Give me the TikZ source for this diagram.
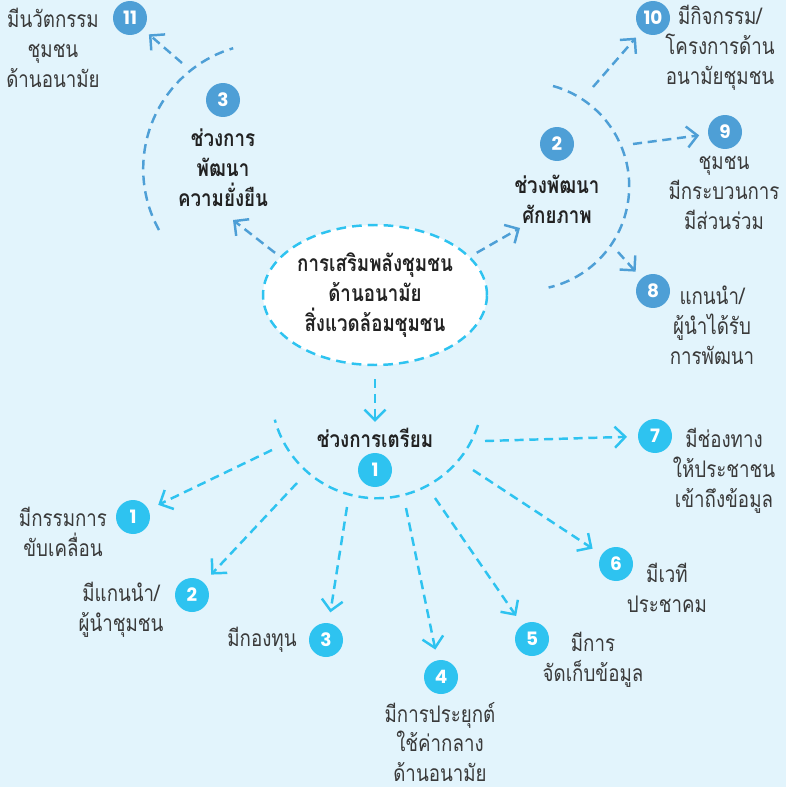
\documentclass[tikz,border=0pt]{standalone}
\usepackage{fontspec}
\setmainfont[Script=Thai, FakeStretch=0.82]{Loma}
\newfontfamily\digitfont{Poppins}
\usetikzlibrary{arrows.meta,shapes.geometric}

\definecolor{bgblue}{HTML}{E2F4FC}
\definecolor{cyanline}{HTML}{2EC3F0}
\definecolor{steelline}{HTML}{4E9FD6}
\definecolor{txtgray}{HTML}{3A3A3A}
\definecolor{ttlblack}{HTML}{222222}

\tikzset{
  dashline/.style={line width=1.4pt, dash pattern=on 5.5pt off 3.5pt},
  arrline/.style={line width=1.4pt, dash pattern=on 5.2pt off 3.2pt,
    -{Straight Barb[length=6pt,width=12pt]}, shorten >=0.2cm},
  numdot/.style={circle, fill=#1, text=white, minimum size=0.68cm,
    inner sep=0pt, outer sep=0pt, font=\digitfont\bfseries\fontsize{10.5}{10.5}\selectfont},
  lbl/.style={align=center, text=txtgray, inner sep=0pt,
    font=\fontsize{13}{17}\selectfont},
  ttl/.style={align=center, text=ttlblack, inner sep=0pt,
    font=\bfseries\fontsize{13}{17}\selectfont},
}

\begin{document}
\begin{tikzpicture}[x=0.02cm, y=-0.02cm]
        \fill[bgblue] (0,0) rectangle (786,787);
        \useasboundingbox (0,0) rectangle (786,787);

        % centre
        \node[ttl, ellipse, draw=cyanline, fill=white, dashline,
              minimum width=4.48cm, minimum height=2.8cm] (main) at (375,295)
              {การเสริมพลังชุมชน\\ด้านอนามัย\\สิ่งแวดล้อมชุมชน};

        % stage 1
        \node[ttl] (t1) at (375,438) {ช่วงการเตรียม};
        \node[numdot=cyanline] (s1) at (375,470) {1};
        \draw[cyanline, dashline] (478,425) arc[start angle=18, end angle=165, radius=106];
        \draw[arrline, cyanline, shorten <=0.26cm, shorten >=0.12cm] (main.south) -- (t1.north);

        \node[numdot=cyanline] (n1) at (133,517) {1};
        \node[numdot=cyanline] (n2) at (192,595) {2};
        \node[numdot=cyanline] (n3) at (326,640) {3};
        \node[numdot=cyanline] (n4) at (441,677) {4};
        \node[numdot=cyanline] (n5) at (532,639) {5};
        \node[numdot=cyanline] (n6) at (616,564) {6};
        \node[numdot=cyanline] (n7) at (655,436) {7};

        \node[lbl] (l1) at (63,532) {มีกรรมการ\\ขับเคลื่อน};
        \node[lbl] (l2) at (121,610) {มีแกนนำ/\\ผู้นำชุมชน};
        \node[lbl] (l3) at (262,640) {มีกองทุน};
        \node[lbl] (l4) at (440,742) {มีการประยุกต์\\ใช้ค่ากลาง\\ด้านอนามัย};
        \node[lbl] (l5) at (593,660) {มีการ\\จัดเก็บข้อมูล};
        \node[lbl] (l6) at (667,588) {มีเวที\\ประชาคม};
        \node[lbl] (l7) at (724,471) {มีช่องทาง\\ให้ประชาชน\\เข้าถึงข้อมูล};

        \coordinate (o1) at (272,450);
        \coordinate (o2) at (297,483);
        \coordinate (o3) at (347,507);
        \coordinate (o4) at (406,508);
        \coordinate (o5) at (435,498);
        \coordinate (o6) at (473,470);
        \coordinate (o7) at (485,441);
        \foreach \i in {1,...,7}
          \draw[arrline, cyanline, shorten >=0.22cm] (o\i) -- (n\i);

        % stage 2
        \node[numdot=steelline] (s2) at (557,144) {2};
        \node[ttl] (t2) at (557,199) {ช่วงพัฒนา\\ศักยภาพ};
        \draw[steelline, dashline] (553,86) arc[start angle=-74.5, end angle=77, radius=104];
        \coordinate (e2) at (520,228);
        \draw[arrline, steelline, shorten <=0.15cm, shorten >=0cm] (main.22) -- (e2);

        \node[numdot=steelline] (n8) at (653,291) {8};
        \node[numdot=steelline] (n9) at (725,132) {9};
        \node[numdot=steelline] (n10) at (653,18) {10};
        \node[lbl] (l8) at (712,325) {แกนนำ/\\ผู้นำได้รับ\\การพัฒนา};
        \node[lbl] (l9) at (724,193) {ชุมชน\\มีกระบวนการ\\มีส่วนร่วม};
        \node[lbl] (l10) at (720,48) {มีกิจกรรม/\\โครงการด้าน\\อนามัยชุมชน};
        \coordinate (o8) at (618,252);
        \coordinate (o9) at (633,144);
        \coordinate (o10) at (593,87);
        \foreach \i in {8,9,10}
          \draw[arrline, steelline, shorten >=0.18cm] (o\i) -- (n\i);

        % stage 3
        \node[numdot=steelline] (s3) at (223,100) {3};
        \node[ttl] (t3) at (223,168) {ช่วงการ\\พัฒนา\\ความยั่งยืน};
        \draw[steelline, dashline] (159,230) arc[start angle=151, end angle=253.4, radius=126];
        \coordinate (e3) at (233,220);
        \draw[arrline, steelline, shorten <=0.12cm, shorten >=0cm] (main.158) -- (e3);

        \node[numdot=steelline] (n11) at (130,18) {11};
        \node[lbl] (l11) at (53,48) {มีนวัตกรรม\\ชุมชน\\ด้านอนามัย};
        \coordinate (o11) at (182,63);
        \draw[arrline, steelline, shorten >=0.16cm] (o11) -- (n11);

\end{tikzpicture}
\end{document}
